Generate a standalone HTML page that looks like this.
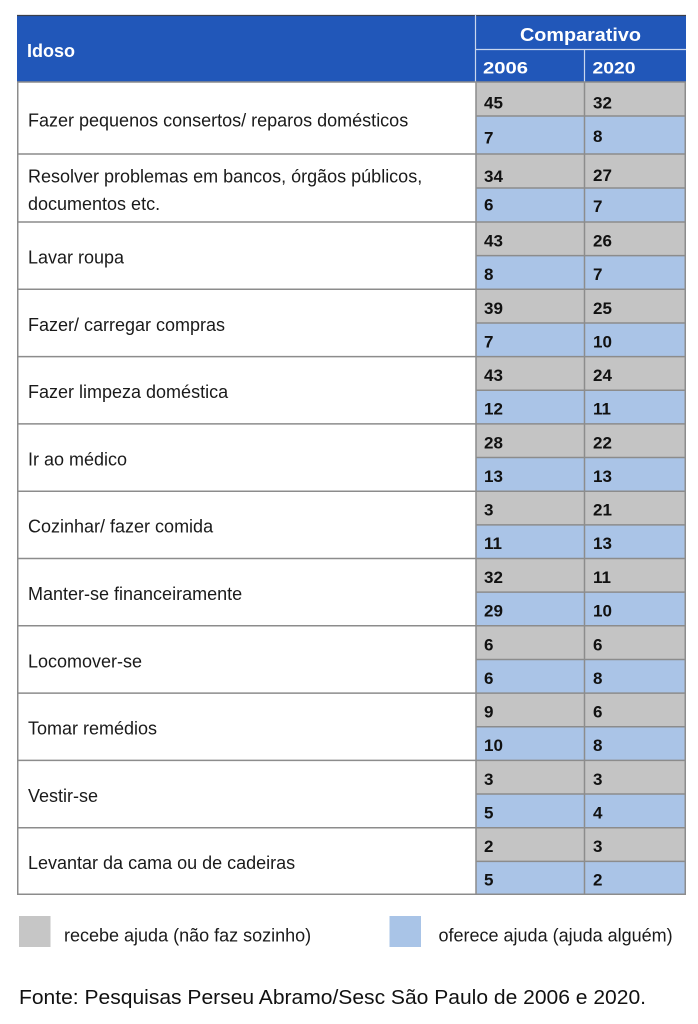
<!DOCTYPE html>
<html>
<head>
<meta charset="utf-8">
<style>
  html,body{margin:0;padding:0;background:#fff;}
  body{width:698px;height:1024px;overflow:hidden;}
  svg{display:block;}
  .lbl{font-family:"Liberation Sans",sans-serif;font-size:18px;fill:#1a1a1a;}
  .num{font-family:"Liberation Sans",sans-serif;font-size:17px;font-weight:bold;fill:#111;}
  .hd{font-family:"Liberation Sans",sans-serif;font-weight:bold;fill:#fff;}
</style>
</head>
<body>
<svg width="698" height="1024" viewBox="0 0 698 1024" xmlns="http://www.w3.org/2000/svg">
  <!-- Header -->
  <rect x="17" y="15" width="669" height="67" fill="#2157b9"/>
  <line x1="17" y1="15.5" x2="686" y2="15.5" stroke="#3a3f4a" stroke-width="1.2"/>
  <line x1="475.5" y1="15" x2="475.5" y2="82" stroke="#c9d6ee" stroke-width="1.2"/>
  <line x1="475" y1="49.5" x2="686" y2="49.5" stroke="#c9d6ee" stroke-width="1.2"/>
  <line x1="584.5" y1="49" x2="584.5" y2="82" stroke="#c9d6ee" stroke-width="1.2"/>
  <text class="hd" x="27" y="57" font-size="18">Idoso</text>
  <text class="hd" x="520" y="41" font-size="18" textLength="121" lengthAdjust="spacingAndGlyphs">Comparativo</text>
  <text class="hd" x="483" y="73.5" font-size="17" textLength="45" lengthAdjust="spacingAndGlyphs">2006</text>
  <text class="hd" x="592.5" y="73.5" font-size="17" textLength="43" lengthAdjust="spacingAndGlyphs">2020</text>

  <!-- Body cells -->
  <g id="cells">
    <rect x="476" y="82" width="210" height="34" fill="#c4c4c4"/>
    <rect x="476" y="116" width="210" height="38" fill="#aac4e7"/>
    <rect x="476" y="154" width="210" height="34" fill="#c4c4c4"/>
    <rect x="476" y="188" width="210" height="34" fill="#aac4e7"/>
    <rect x="476" y="222" width="210" height="33.65" fill="#c4c4c4"/>
    <rect x="476" y="255.65" width="210" height="33.65" fill="#aac4e7"/>
    <rect x="476" y="289.3" width="210" height="33.65" fill="#c4c4c4"/>
    <rect x="476" y="322.95" width="210" height="33.65" fill="#aac4e7"/>
    <rect x="476" y="356.6" width="210" height="33.65" fill="#c4c4c4"/>
    <rect x="476" y="390.25" width="210" height="33.65" fill="#aac4e7"/>
    <rect x="476" y="423.9" width="210" height="33.65" fill="#c4c4c4"/>
    <rect x="476" y="457.55" width="210" height="33.65" fill="#aac4e7"/>
    <rect x="476" y="491.2" width="210" height="33.65" fill="#c4c4c4"/>
    <rect x="476" y="524.85" width="210" height="33.65" fill="#aac4e7"/>
    <rect x="476" y="558.5" width="210" height="33.65" fill="#c4c4c4"/>
    <rect x="476" y="592.15" width="210" height="33.65" fill="#aac4e7"/>
    <rect x="476" y="625.8" width="210" height="33.65" fill="#c4c4c4"/>
    <rect x="476" y="659.45" width="210" height="33.65" fill="#aac4e7"/>
    <rect x="476" y="693.1" width="210" height="33.65" fill="#c4c4c4"/>
    <rect x="476" y="726.75" width="210" height="33.65" fill="#aac4e7"/>
    <rect x="476" y="760.4" width="210" height="33.65" fill="#c4c4c4"/>
    <rect x="476" y="794.05" width="210" height="33.65" fill="#aac4e7"/>
    <rect x="476" y="827.7" width="210" height="33.65" fill="#c4c4c4"/>
    <rect x="476" y="861.35" width="210" height="33.65" fill="#aac4e7"/>
  </g>

  <!-- Grid lines -->
  <g stroke="#8c8c8c" stroke-width="1.5" fill="none">
    <rect x="17.75" y="82" width="667.5" height="812.25"/>
    <line x1="476" y1="82" x2="476" y2="895"/>
    <line x1="584.5" y1="82" x2="584.5" y2="895"/>
    <line x1="17" y1="154" x2="686" y2="154"/>
    <line x1="17" y1="222" x2="686" y2="222"/>
    <line x1="17" y1="289.3" x2="686" y2="289.3"/>
    <line x1="17" y1="356.6" x2="686" y2="356.6"/>
    <line x1="17" y1="423.9" x2="686" y2="423.9"/>
    <line x1="17" y1="491.2" x2="686" y2="491.2"/>
    <line x1="17" y1="558.5" x2="686" y2="558.5"/>
    <line x1="17" y1="625.8" x2="686" y2="625.8"/>
    <line x1="17" y1="693.1" x2="686" y2="693.1"/>
    <line x1="17" y1="760.4" x2="686" y2="760.4"/>
    <line x1="17" y1="827.7" x2="686" y2="827.7"/>
    <line x1="476" y1="116" x2="686" y2="116"/>
    <line x1="476" y1="188" x2="686" y2="188"/>
    <line x1="476" y1="255.65" x2="686" y2="255.65"/>
    <line x1="476" y1="322.95" x2="686" y2="322.95"/>
    <line x1="476" y1="390.25" x2="686" y2="390.25"/>
    <line x1="476" y1="457.55" x2="686" y2="457.55"/>
    <line x1="476" y1="524.85" x2="686" y2="524.85"/>
    <line x1="476" y1="592.15" x2="686" y2="592.15"/>
    <line x1="476" y1="659.45" x2="686" y2="659.45"/>
    <line x1="476" y1="726.75" x2="686" y2="726.75"/>
    <line x1="476" y1="794.05" x2="686" y2="794.05"/>
    <line x1="476" y1="861.35" x2="686" y2="861.35"/>
  </g>

  <!-- Labels -->
  <text class="lbl" x="28" y="126.5">Fazer pequenos consertos/ reparos domésticos</text>
  <text class="lbl" x="28" y="182.5">Resolver problemas em bancos, órgãos públicos,</text>
  <text class="lbl" x="28" y="210">documentos etc.</text>
  <text class="lbl" x="28" y="263.5">Lavar roupa</text>
  <text class="lbl" x="28" y="330.8">Fazer/ carregar compras</text>
  <text class="lbl" x="28" y="398.1">Fazer limpeza doméstica</text>
  <text class="lbl" x="28" y="465.4">Ir ao médico</text>
  <text class="lbl" x="28" y="532.7">Cozinhar/ fazer comida</text>
  <text class="lbl" x="28" y="600">Manter-se financeiramente</text>
  <text class="lbl" x="28" y="667.3">Locomover-se</text>
  <text class="lbl" x="28" y="734.6">Tomar remédios</text>
  <text class="lbl" x="28" y="801.9">Vestir-se</text>
  <text class="lbl" x="28" y="869.2">Levantar da cama ou de cadeiras</text>

  <!-- Numbers -->
  <g class="num">
    <text x="484" y="108.5">45</text><text x="593" y="108.5">32</text>
    <text x="484" y="143.5">7</text><text x="593" y="142">8</text>

    <text x="484" y="182">34</text><text x="593" y="181">27</text>
    <text x="484" y="210.5">6</text><text x="593" y="212">7</text>

    <text x="484" y="246.5">43</text><text x="593" y="246.5">26</text>
    <text x="484" y="280">8</text><text x="593" y="280">7</text>

    <text x="484" y="313.8">39</text><text x="593" y="313.8">25</text>
    <text x="484" y="347.3">7</text><text x="593" y="347.3">10</text>

    <text x="484" y="381.1">43</text><text x="593" y="381.1">24</text>
    <text x="484" y="414.6">12</text><text x="593" y="414.6">11</text>

    <text x="484" y="448.4">28</text><text x="593" y="448.4">22</text>
    <text x="484" y="481.9">13</text><text x="593" y="481.9">13</text>

    <text x="484" y="515.7">3</text><text x="593" y="515.7">21</text>
    <text x="484" y="549.2">11</text><text x="593" y="549.2">13</text>

    <text x="484" y="583">32</text><text x="593" y="583">11</text>
    <text x="484" y="616.5">29</text><text x="593" y="616.5">10</text>

    <text x="484" y="650.3">6</text><text x="593" y="650.3">6</text>
    <text x="484" y="683.8">6</text><text x="593" y="683.8">8</text>

    <text x="484" y="717.6">9</text><text x="593" y="717.6">6</text>
    <text x="484" y="751.1">10</text><text x="593" y="751.1">8</text>

    <text x="484" y="784.9">3</text><text x="593" y="784.9">3</text>
    <text x="484" y="818.4">5</text><text x="593" y="818.4">4</text>

    <text x="484" y="852.2">2</text><text x="593" y="852.2">3</text>
    <text x="484" y="885.7">5</text><text x="593" y="885.7">2</text>
  </g>

  <!-- Legend -->
  <rect x="19" y="916" width="31.5" height="31" fill="#c6c6c6"/>
  <text class="lbl" x="64" y="941.5">recebe ajuda (não faz sozinho)</text>
  <rect x="389.5" y="916" width="31.5" height="31" fill="#a9c4e7"/>
  <text class="lbl" x="438.5" y="941.5">oferece ajuda (ajuda alguém)</text>

  <!-- Source -->
  <text x="19" y="1004" font-family="Liberation Sans, sans-serif" font-size="20" fill="#111" textLength="627" lengthAdjust="spacingAndGlyphs">Fonte: Pesquisas Perseu Abramo/Sesc São Paulo de 2006 e 2020.</text>
</svg>
</body>
</html>
